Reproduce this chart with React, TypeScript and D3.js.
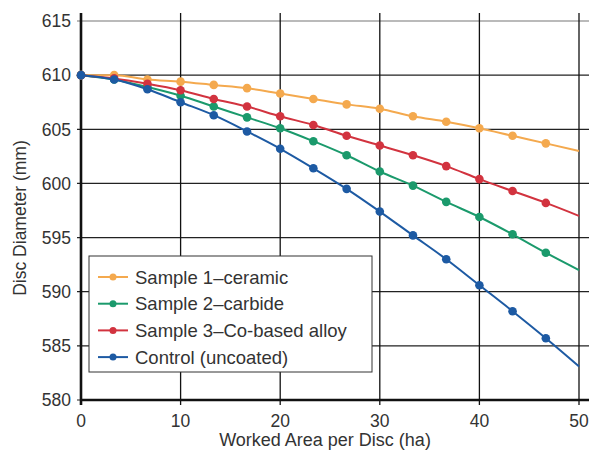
import React from "react";
import * as d3 from "d3";

const xValues = [0, 3.33, 6.67, 10, 13.33, 16.67, 20, 23.33, 26.67, 30, 33.33, 36.67, 40, 43.33, 46.67, 50];
const ceramic = [610, 610, 609.6, 609.4, 609.1, 608.8, 608.3, 607.8, 607.3, 606.9, 606.2, 605.7, 605.1, 604.4, 603.7, 603.0];
const carbide = [610, 609.6, 608.9, 608.1, 607.1, 606.1, 605.1, 603.9, 602.6, 601.1, 599.8, 598.3, 596.9, 595.3, 593.6, 592.0];
const cobalt = [610, 609.7, 609.2, 608.6, 607.8, 607.1, 606.2, 605.4, 604.4, 603.5, 602.6, 601.6, 600.4, 599.3, 598.2, 597.0];
const control = [610, 609.6, 608.7, 607.5, 606.3, 604.8, 603.2, 601.4, 599.5, 597.4, 595.2, 593.0, 590.6, 588.2, 585.7, 583.1];

const xTicks = [0, 10, 20, 30, 40, 50];
const yTicks = [580, 585, 590, 595, 600, 605, 610, 615];

const seriesNames = ["Sample 1\u2013ceramic", "Sample 2\u2013carbide", "Sample 3\u2013Co-based alloy", "Control (uncoated)"];
const seriesValues = [ceramic, carbide, cobalt, control];
const seriesColors = ["#f4a94e", "#1b9a6c", "#d2333f", "#1d5aa3"];

const W = 589;
const H = 451;
const font = "'Liberation Sans', Arial, sans-serif";

export default function App() {
  const x = d3.scaleLinear().domain([0, 50]).range([81, 579]);
  const y = d3.scaleLinear().domain([580, 615]).range([400, 21]);
  const line = d3
    .line<number>()
    .x((_, i) => x(xValues[i]))
    .y((d) => y(d))
    .curve(d3.curveMonotoneX);

  const legendX = 89;
  const legendY = 256;
  const rowH = 26.7;

  return (
    <svg
      width={W}
      height={H}
      style={{ position: "absolute", left: 0, top: 0, background: "#fff" }}
      fontFamily={font}
    >
      <rect width={W} height={H} fill="#fff" />
      {yTicks.map((t) => (
        <line
          key={"h" + t}
          x1={77}
          x2={W}
          y1={y(t)}
          y2={y(t)}
          stroke={t === 615 ? "#777" : "#222"}
          strokeWidth={1.2}
        />
      ))}
      {xTicks.map((t) => (
        <line
          key={"v" + t}
          x1={x(t)}
          x2={x(t)}
          y1={13}
          y2={405}
          stroke="#111"
          strokeWidth={t === 0 ? 2.6 : 1.3}
        />
      ))}
      <line x1={x(0) - 1} x2={W} y1={y(580)} y2={y(580)} stroke="#111" strokeWidth={2.4} />

      {seriesValues.map((vals, si) => (
        <g key={"s" + si}>
          <path d={line(vals) || ""} fill="none" stroke={seriesColors[si]} strokeWidth={2} />
          {vals.slice(0, vals.length - 1).map((v, i) => (
            <circle key={i} cx={x(xValues[i])} cy={y(v)} r={4.3} fill={seriesColors[si]} />
          ))}
        </g>
      ))}

      {yTicks.map((t) => (
        <text
          key={"yl" + t}
          x={71}
          y={y(t)}
          dy="0.36em"
          textAnchor="end"
          fontSize={17.5}
          fill="#333"
        >
          {t}
        </text>
      ))}
      {xTicks.map((t) => (
        <text key={"xl" + t} x={x(t)} y={427} textAnchor="middle" fontSize={17.5} fill="#333">
          {t}
        </text>
      ))}

      <text x={325} y={446} textAnchor="middle" fontSize={18} fill="#333">
        Worked Area per Disc (ha)
      </text>
      <text
        transform={`translate(26, 218) rotate(-90)`}
        textAnchor="middle"
        fontSize={17.5}
        fill="#333"
      >
        Disc Diameter (mm)
      </text>

      <rect x={legendX} y={legendY} width={283} height={116} fill="#fff" stroke="#333" strokeWidth={1} />
      {seriesNames.map((name, i) => {
        const cy = legendY + 21 + i * rowH;
        return (
          <g key={"lg" + i}>
            <line x1={98} x2={128} y1={cy} y2={cy} stroke={seriesColors[i]} strokeWidth={2} />
            <circle cx={113} cy={cy} r={3.5} fill={seriesColors[i]} />
            <text x={135} y={cy} dy="0.36em" fontSize={18.5} fill="#333">
              {name}
            </text>
          </g>
        );
      })}
    </svg>
  );
}
